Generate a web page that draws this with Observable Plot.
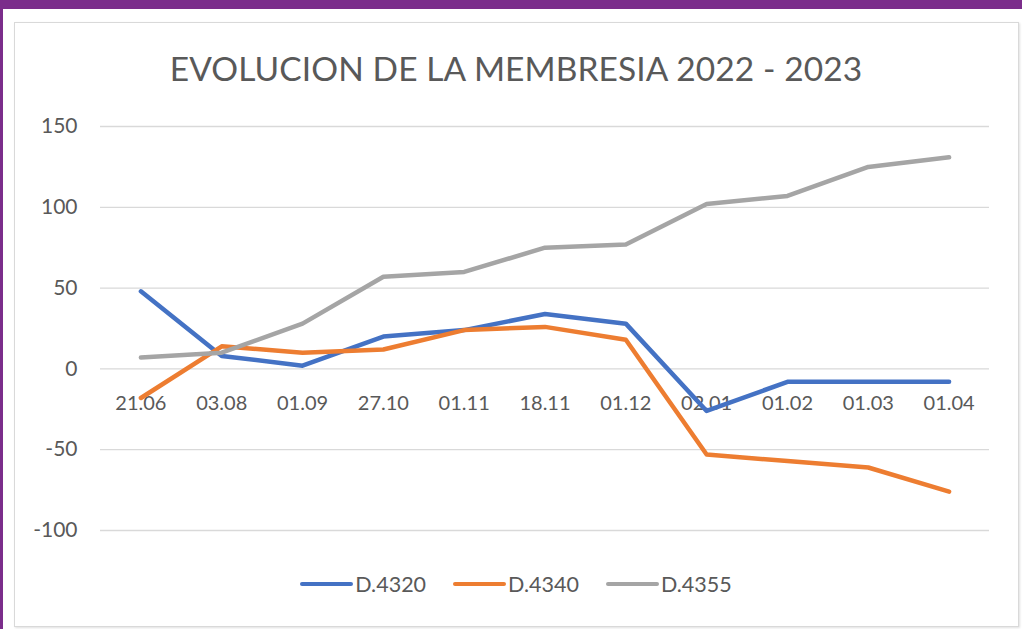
<!DOCTYPE html>
<html>
<head>
<meta charset="utf-8">
<script src="https://cdn.jsdelivr.net/npm/d3@7"></script>
<script src="https://cdn.jsdelivr.net/npm/@observablehq/plot@0.6"></script>
<style>
  html, body { margin: 0; padding: 0; }
  body { width: 1022px; height: 629px; background: #7B2D8B; position: relative; overflow: hidden; font-family: Lato, "Open Sans", sans-serif; }
  #panel { position: absolute; left: 3px; top: 9px; width: 1019px; height: 620px; background: #ffffff; }
  #frame { position: absolute; left: 14px; top: 22px; width: 1003px; height: 603px; border: 1px solid #d9d9d9; box-shadow: 1px 1px 2px rgba(0,0,0,0.12); background: #fff; }
  #title { position: absolute; left: 14px; width: 1004px; top: 48px; text-align: center; font-size: 33.5px; color: #595959; font-weight: 400; letter-spacing: 0.1px; }
  #chart { position: absolute; left: 14px; top: 100px; }
  #legend { position: absolute; left: 14px; width: 1004px; top: 571px; display: flex; justify-content: center; gap: 27px; font-size: 21.5px; color: #595959; }
  .item { display: flex; align-items: center; }
  .sw { width: 53px; height: 4px; border-radius: 2px; margin-right: 2px; }
</style>
</head>
<body>
<div id="panel"></div>
<div id="frame"></div>
<div id="title">EVOLUCION DE LA MEMBRESIA 2022 - 2023</div>
<div id="chart"></div>
<div id="legend"></div>
<script>
const categories = ["21.06", "03.08", "01.09", "27.10", "01.11", "18.11", "01.12", "02.01", "01.02", "01.03", "01.04"];
const seriesNames = ["D.4320", "D.4340", "D.4355"];
const seriesColors = ["#4472C4", "#ED7D31", "#A5A5A5"];
const d4320 = [48, 8, 2, 20, 24, 34, 28, -26, -8, -8, -8];
const d4340 = [-18, 14, 10, 12, 24, 26, 18, -53, -57, -61, -76];
const d4355 = [7, 10, 28, 57, 60, 75, 77, 102, 107, 125, 131];
const yTicks = [-100, -50, 0, 50, 100, 150];

const seriesValues = [d4320, d4340, d4355];
const rows = [];
seriesNames.forEach((s, i) => {
  categories.forEach((c, j) => rows.push({series: s, cat: c, value: seriesValues[i][j]}));
});

const chart = Plot.plot({
  width: 1004,
  height: 460,
  marginLeft: 86,
  marginRight: 29,
  marginTop: 26,
  marginBottom: 30,
  style: {fontFamily: "Lato, 'Open Sans', sans-serif", background: "transparent"},
  x: {type: "band", domain: categories, padding: 0, round: false, axis: null},
  y: {domain: [-100, 150], ticks: yTicks},
  color: {domain: seriesNames, range: seriesColors},
  marks: [
    Plot.gridY(yTicks, {stroke: "#d9d9d9", strokeOpacity: 1, strokeWidth: 1.3}),
    Plot.axisY(yTicks, {tickSize: 0, tickPadding: 23, fontSize: 21, fill: "#595959", label: null, tickFormat: d => String(d)}),
    Plot.text(categories, {x: d => d, y: () => 0, dy: 35, text: d => d, fontSize: 20, fill: "#595959"}),
    Plot.line(rows, {x: "cat", y: "value", z: "series", stroke: "series", strokeWidth: 4.5, strokeLinejoin: "round", strokeLinecap: "round"})
  ]
});
document.getElementById("chart").appendChild(chart);

const legend = document.getElementById("legend");
seriesNames.forEach((s, i) => {
  const item = document.createElement("div");
  item.className = "item";
  const sw = document.createElement("div");
  sw.className = "sw";
  sw.style.background = seriesColors[i];
  const t = document.createElement("span");
  t.textContent = s;
  item.appendChild(sw);
  item.appendChild(t);
  legend.appendChild(item);
});
</script>
</body>
</html>
